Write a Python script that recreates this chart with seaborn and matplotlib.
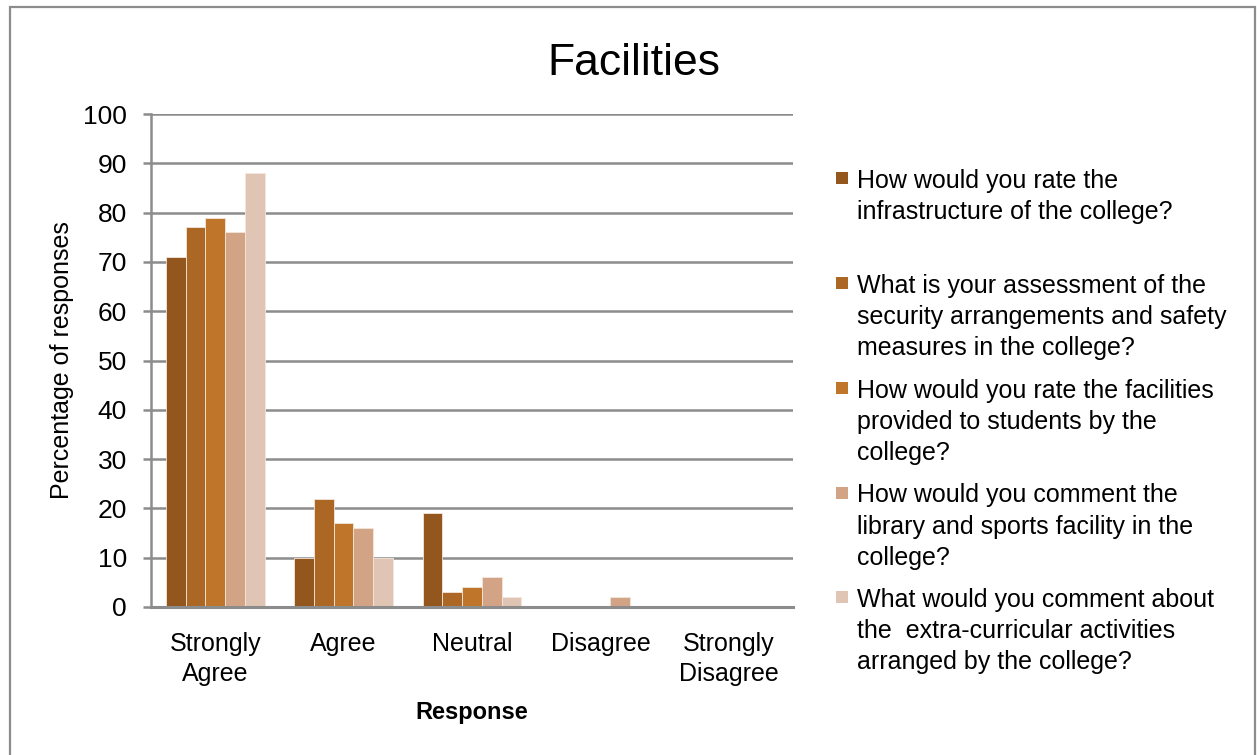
import matplotlib
matplotlib.use("Agg")
import matplotlib.pyplot as plt
from matplotlib.patches import Rectangle
from matplotlib.lines import Line2D
import seaborn as sns
import pandas as pd

categories = ["Strongly\nAgree", "Agree", "Neutral", "Disagree", "Strongly\nDisagree"]
questions = [
    "How would you rate the\ninfrastructure of the college?\n",
    "What is your assessment of the\nsecurity arrangements and safety\nmeasures in the college?",
    "How would you rate the facilities\nprovided to students by the\ncollege?",
    "How would you comment the\nlibrary and sports facility in the\ncollege?",
    "What would you comment about\nthe  extra-curricular activities\narranged by the college?",
]
infrastructure = [71, 10, 19, 0, 0]
security = [77, 22, 3, 0, 0]
facilities = [79, 17, 4, 0, 0]
library_sports = [76, 16, 6, 2, 0]
extracurricular = [88, 10, 2, 0, 0]
yticks = [0, 10, 20, 30, 40, 50, 60, 70, 80, 90, 100]
colors = ["#93561C", "#AD6724", "#C0762A", "#D3A386", "#E0C4B4"]

series = [infrastructure, security, facilities, library_sports, extracurricular]
rows = []
for q, vals in zip(questions, series):
    for c, v in zip(categories, vals):
        rows.append({"Response": c, "Percent": v, "Question": q})
df = pd.DataFrame(rows)

sns.set_style("white")
plt.rcParams["font.family"] = ["Liberation Sans", "DejaVu Sans"]
plt.rcParams["text.color"] = "black"
plt.rcParams["axes.labelcolor"] = "black"

W, H = 1257, 755
fig = plt.figure(figsize=(W / 100, H / 100), dpi=100)
ax = fig.add_axes([151 / W, (H - 607) / H, (793 - 151) / W, (607 - 114) / H])

sns.barplot(data=df, x="Response", y="Percent", hue="Question", hue_order=questions,
            order=categories, palette=colors, width=0.77, ax=ax,
            edgecolor="#f3e6dc", linewidth=0.6, errorbar=None, saturation=1)

grid_c = "#8c8c8c"
ax.set_ylim(0, 100)
ax.set_yticks(yticks)
ax.set_yticklabels([str(t) for t in yticks], fontsize=19)
ax.yaxis.grid(True, color=grid_c, linewidth=1.8)
ax.set_axisbelow(True)
ax.tick_params(axis="y", length=5.8, width=1.8, color=grid_c, pad=11.5, direction="out",
               left=True, labelcolor="black")
ax.tick_params(axis="x", length=0, pad=18, labelsize=18, labelcolor="black")
for lab in ax.get_xticklabels():
    lab.set_linespacing(1.3)
for s in ["top", "right"]:
    ax.spines[s].set_visible(False)
ax.spines["left"].set_color(grid_c)
ax.spines["left"].set_linewidth(1.8)
ax.spines["bottom"].set_color(grid_c)
ax.spines["bottom"].set_linewidth(2.2)

ax.set_ylabel("Percentage of responses", fontsize=18)
ax.yaxis.set_label_coords(-0.12, 0.5)
ax.set_xlabel("Response", fontsize=17, fontweight="bold")
ax.xaxis.set_label_coords(0.5, -0.19)

handles = [Line2D([], [], marker="s", linestyle="", markersize=8.6, color=c,
                  markeredgewidth=0) for c in colors]
leg = ax.legend(handles, questions, loc="upper left", bbox_to_anchor=(836 / W, 1 - 169 / H),
                bbox_transform=fig.transFigure, frameon=False, fontsize=18,
                handlelength=0.5, handleheight=0.82, handletextpad=0.35,
                labelspacing=0.74, borderpad=0, borderaxespad=0)
for t in leg.get_texts():
    t.set_linespacing(1.376)
for col in leg._legend_handle_box.get_children():
    for item in col.get_children():
        item.align = "top"

fig.text(634 / W, 1 - 75 / H, "Facilities", fontsize=32, ha="center", va="baseline",
         color="black")

fig.add_artist(Rectangle((10 / W, -0.1), (1255 - 10) / W, (H - 7) / H + 0.1,
                         transform=fig.transFigure, fill=False, edgecolor=grid_c, linewidth=1.6))

fig.savefig("out.png", dpi=100)
